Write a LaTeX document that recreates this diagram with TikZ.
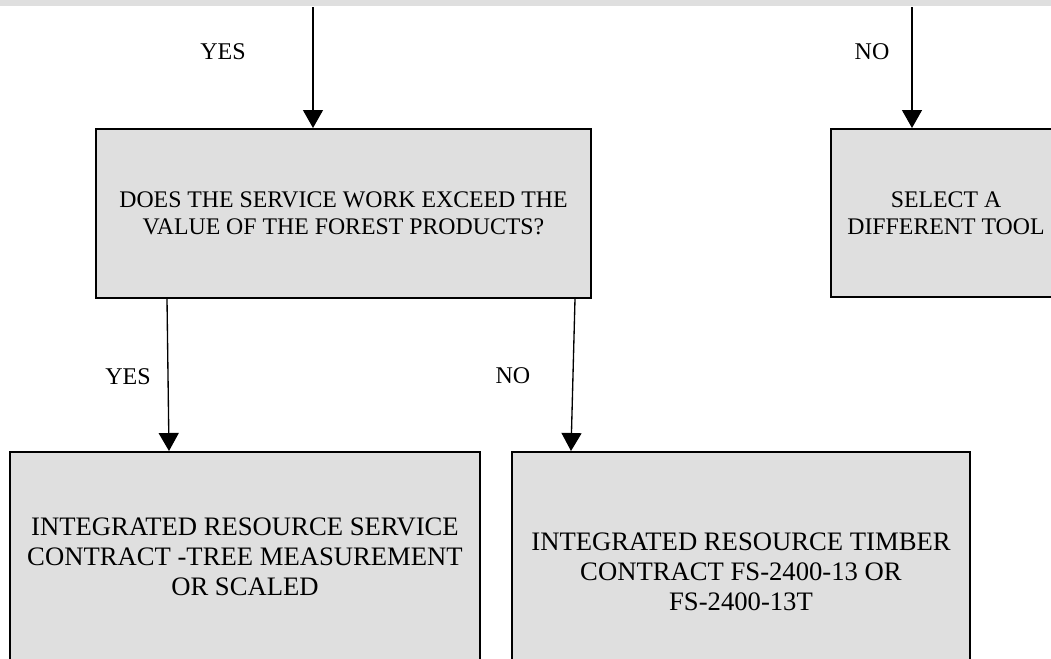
\documentclass[tikz,border=0pt]{standalone}
\usepackage{fontspec}
\setmainfont{Liberation Serif}
\usetikzlibrary{arrows.meta}
\definecolor{boxgray}{RGB}{223,223,223}
\begin{document}
\begin{tikzpicture}[x=0.75pt,y=-0.75pt,
    box/.style={draw=black,line width=1.5pt,fill=boxgray,align=center,inner sep=0pt},
    upper/.style={font=\fontsize{17.85}{20.25}\selectfont},
    lower/.style={font=\fontsize{20}{22.5}\selectfont},
    answer/.style={font=\fontsize{18}{21}\selectfont},
    arr/.style={line width=1pt,-{Triangle[length=13.5pt,width=15pt]}}]
  \useasboundingbox (0,0) rectangle (1051,658);
  \clip (0,0) rectangle (1051,658);
  % box above, cut off by the page
  \fill[boxgray] (0,-20) rectangle (1051,6);
  % boxes
  \node[box,upper,minimum width=371.25pt,minimum height=126.75pt] (quest) at (343.5,213.5)
    {DOES THE SERVICE WORK EXCEED THE\\VALUE OF THE FOREST PRODUCTS?};
  \node[box,upper,minimum width=172.5pt,minimum height=126pt] (other) at (946,213)
    {SELECT A\\DIFFERENT TOOL};
  \node[box,lower,minimum width=352.5pt,minimum height=157.5pt] (irsc) at (245,557)
    {INTEGRATED RESOURCE SERVICE\\CONTRACT -TREE MEASUREMENT\\OR SCALED};
  \node[box,lower,minimum width=343.5pt,minimum height=180pt] (irtc) at (741,572)
    {INTEGRATED RESOURCE TIMBER\\CONTRACT FS-2400-13 OR\\FS-2400-13T};
  % answers
  \node[answer] (yesTop) at (223,52) {YES};
  \node[answer] (noTop) at (872,52) {NO};
  \node[answer] (yesLow) at (128,377) {YES};
  \node[answer] (noLow) at (513,376) {NO};
  % arrows
  \coordinate (inYes) at (313,7);
  \coordinate (inNo) at (912,7);
  \draw[arr] (inYes) -- (inYes |- quest.north);
  \draw[arr] (inNo) -- (inNo |- other.north);
  \draw[arr] ([xshift=54pt]quest.south west) -- ([xshift=120pt]irsc.north west);
  \draw[arr] ([xshift=360pt]quest.south west) -- ([xshift=45pt]irtc.north west);
\end{tikzpicture}
\end{document}
